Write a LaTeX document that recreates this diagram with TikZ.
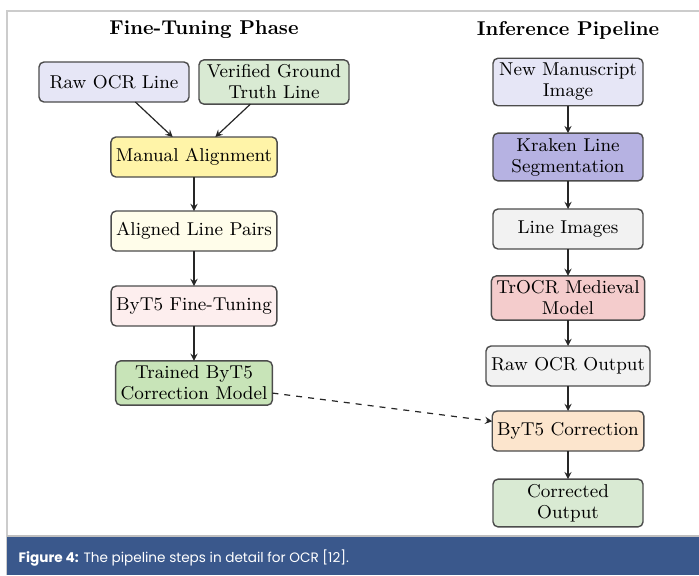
\documentclass[tikz,border=0pt]{standalone}
\usepackage{fontspec}
\newfontfamily\capfont{Poppins}

\definecolor{lavender}{RGB}{230,230,246}
\definecolor{palegreen}{RGB}{217,234,211}
\definecolor{midgreen}{RGB}{200,228,184}
\definecolor{butter}{RGB}{255,244,168}
\definecolor{cream}{RGB}{255,253,234}
\definecolor{blush}{RGB}{253,238,238}
\definecolor{violet}{RGB}{182,178,226}
\definecolor{lightgrey}{RGB}{242,242,242}
\definecolor{rose}{RGB}{244,204,204}
\definecolor{peach}{RGB}{252,229,205}
\definecolor{capblue}{RGB}{58,88,140}

\begin{document}
\begin{tikzpicture}[x=0.5pt, y=-0.5pt, outer sep=0pt]
  \tikzstyle{stage}=[
    draw=black!70,
    rectangle,
    rounded corners=2.5pt,
    line width=0.7pt,
    minimum width=75pt,
    minimum height=20pt,
    inner sep=2.5pt,
    align=center,
    anchor=center,
    font=\fontsize{9.3}{10.5}\selectfont
  ]
  \tikzstyle{heading}=[font=\fontsize{10}{12}\selectfont\bfseries]
  \tikzstyle{arrow} = [line width=0.6pt,->,>=stealth, draw=black!85]

  \useasboundingbox (0,0) rectangle (699,575);
  % frame and caption bar
  \draw[black!20, line width=0.8pt] (7,575) -- (7,11) -- (699,11);
  \fill[capblue] (7,537) rectangle (699,575);
  \draw[black!25, line width=0.8pt] (7,536) -- (699,536);
  \node[anchor=west, text=white, font=\capfont\fontsize{6.8}{9}\selectfont] (caption) at (12,558)
    {\textbf{Figure 4:} The pipeline steps in detail for OCR [12].};

  % fine-tuning phase
  \node[heading] (titleleft) at (204,30) {Fine-Tuning Phase};
  \node[stage, fill=lavender] (rawline) at (114,82) {Raw OCR Line};
  \node[stage, fill=palegreen] (truth) at (274,82) {Verified Ground\\Truth Line};
  \node[stage, fill=butter] (align) at (194,157) {Manual Alignment};
  \node[stage, fill=cream] (pairs) at (194,231) {Aligned Line Pairs};
  \node[stage, fill=blush] (finetune) at (194,306) {ByT5 Fine-Tuning};
  \node[stage, fill=midgreen] (trained) at (194,383) {Trained ByT5\\Correction Model};
  \draw[arrow] (rawline) -- (align);
  \draw[arrow] (truth) -- (align);
  \draw[arrow] (align) -- (pairs);
  \draw[arrow] (pairs) -- (finetune);
  \draw[arrow] (finetune) -- (trained);

  % inference pipeline
  \node[heading] (titleright) at (568,30) {Inference Pipeline};
  \node[stage, fill=lavender] (manuscript) at (568,82) {New Manuscript\\Image};
  \node[stage, fill=violet] (kraken) at (568,157) {Kraken Line\\Segmentation};
  \node[stage, fill=lightgrey] (lines) at (568,229) {Line Images};
  \node[stage, fill=rose] (trocr) at (568,298) {TrOCR Medieval\\Model};
  \node[stage, fill=lightgrey] (rawout) at (568,366) {Raw OCR Output};
  \node[stage, fill=peach] (correct) at (568,431) {ByT5 Correction};
  \node[stage, fill=palegreen] (output) at (568,503) {Corrected\\Output};
  \draw[arrow] (manuscript) -- (kraken);
  \draw[arrow] (kraken) -- (lines);
  \draw[arrow] (lines) -- (trocr);
  \draw[arrow] (trocr) -- (rawout);
  \draw[arrow] (rawout) -- (correct);
  \draw[arrow] (correct) -- (output);

  \draw[arrow, dashed] (trained) -- (correct);
\end{tikzpicture}
\end{document}
